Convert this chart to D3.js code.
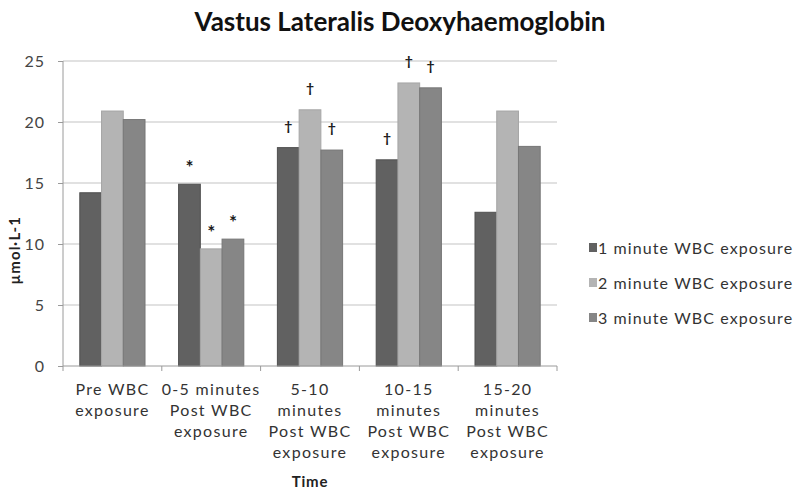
<!DOCTYPE html>
<html><head><meta charset="utf-8">
<script src="https://cdn.jsdelivr.net/npm/d3@7"></script>
<style>body{margin:0;background:#fff}svg{display:block}</style>
</head><body>
<svg id="c" width="798" height="504"></svg>
<script>
const categories = [
  ["Pre WBC","exposure"],
  ["0-5 minutes","Post WBC","exposure"],
  ["5-10","minutes","Post WBC","exposure"],
  ["10-15","minutes","Post WBC","exposure"],
  ["15-20","minutes","Post WBC","exposure"]
];
const seriesNames = ["1 minute WBC exposure","2 minute WBC exposure","3 minute WBC exposure"];
const oneMin   = [14.2, 14.9, 17.9, 16.9, 12.6];
const twoMin   = [20.9,  9.6, 21.0, 23.2, 20.9];
const threeMin = [20.2, 10.4, 17.7, 22.8, 18.0];
const marks1 = ["", "*", "†", "†", ""];
const marks2 = ["", "*", "†", "†", ""];
const marks3 = ["", "*", "†", "†", ""];
const yTicks = [0, 5, 10, 15, 20, 25];
const colors = ["#616161", "#b4b4b4", "#868686"];
const strokes = ["#505050", "#a6a6a6", "#767676"];

const series = [oneMin, twoMin, threeMin];
const marks = [marks1, marks2, marks3];
const svg = d3.select("#c");
const font = "Lato, 'Open Sans', sans-serif";
const L = 63, R = 557, T = 61, B = 366;

const x0 = d3.scaleBand().domain(d3.range(categories.length)).range([L, R]).paddingInner(0.34).paddingOuter(0.17);
const x1 = d3.scaleBand().domain(d3.range(series.length)).range([0, x0.bandwidth()]);
const y = d3.scaleLinear().domain([0, 25]).range([B, T]);

// gridlines
svg.append("g").selectAll("line").data(yTicks.filter(d => d > 0)).join("line")
  .attr("x1", L).attr("x2", R).attr("y1", d => y(d)).attr("y2", d => y(d))
  .attr("stroke", "#c4c4c4").attr("stroke-width", 1.2);

// bars
const g = svg.append("g");
series.forEach((vals, s) => {
  g.selectAll(".b" + s).data(vals).join("rect")
    .attr("x", (d, i) => x0(i) + x1(s))
    .attr("y", d => y(d))
    .attr("width", x1.bandwidth())
    .attr("height", d => B - y(d))
    .attr("fill", colors[s]).attr("stroke", strokes[s]).attr("stroke-width", 1);
  g.selectAll(".m" + s).data(vals).join("text")
    .attr("x", (d, i) => x0(i) + x1(s) + x1.bandwidth() / 2)
    .attr("y", (d, i) => y(d) - (marks[s][i] === "*" ? 10 : 17))
    .attr("text-anchor", "middle")
    .attr("font-family", font)
    .attr("font-size", (d, i) => marks[s][i] === "*" ? 19 : 14)
    .attr("font-weight", "bold")
    .attr("fill", "#1a1a1a")
    .text((d, i) => marks[s][i]);
});

// y axis
const yAxis = d3.axisLeft(y).tickValues(yTicks).tickSize(5).tickPadding(13);
const ya = svg.append("g").attr("transform", `translate(${L},0)`).call(yAxis);
ya.select(".domain").attr("stroke", "#9a9a9a").attr("d", `M-0,${T}V${B}`);
ya.selectAll(".tick line").attr("stroke", "#9a9a9a");
ya.selectAll(".tick text").attr("font-family", font).attr("font-size", 16).attr("letter-spacing", 1).attr("fill", "#444");

// x axis
const xa = svg.append("g").attr("transform", `translate(0,${B})`);
xa.append("line").attr("x1", L).attr("x2", R).attr("stroke", "#9a9a9a");
xa.selectAll(".xt").data(d3.range(categories.length + 1)).join("line")
  .attr("x1", i => L + i * (R - L) / categories.length).attr("x2", i => L + i * (R - L) / categories.length)
  .attr("y1", 0).attr("y2", 5).attr("stroke", "#9a9a9a");
categories.forEach((lines, i) => {
  const cx = x0(i) + x0.bandwidth() / 2;
  const t = xa.append("text").attr("text-anchor", "middle")
    .attr("font-family", font).attr("font-size", 16).attr("letter-spacing", 1.3).attr("fill", "#333")
    .attr("x", cx).attr("y", 29);
  lines.forEach((ln, k) => t.append("tspan").attr("x", cx).attr("dy", k ? 21 : 0).text(ln));
});

// axis titles
svg.append("text").attr("x", 310).attr("y", 487).attr("text-anchor", "middle")
  .attr("font-family", font).attr("font-size", 15).attr("letter-spacing", 0.8).attr("font-weight", "bold").attr("fill", "#222").text("Time");
svg.append("text").attr("transform", "translate(20,250) rotate(-90)").attr("text-anchor", "middle")
  .attr("font-family", font).attr("font-size", 15).attr("letter-spacing", 1.2).attr("font-weight", "bold").attr("fill", "#222").text("μmol·L-1");

// title
svg.append("text").attr("x", 400).attr("y", 31).attr("text-anchor", "middle")
  .attr("font-family", font).attr("font-size", 26).attr("font-weight", "bold").attr("fill", "#111")
  .text("Vastus Lateralis Deoxyhaemoglobin");

// legend
const lg = svg.append("g");
seriesNames.forEach((n, i) => {
  const yy = 248 + i * 35;
  lg.append("rect").attr("x", 589).attr("y", yy - 5).attr("width", 8).attr("height", 9).attr("fill", colors[i]);
  lg.append("text").attr("x", 598).attr("y", yy + 5.5).attr("font-family", font).attr("font-size", 16).attr("letter-spacing", 1.1).attr("fill", "#333").text(n);
});
</script>
</body></html>
